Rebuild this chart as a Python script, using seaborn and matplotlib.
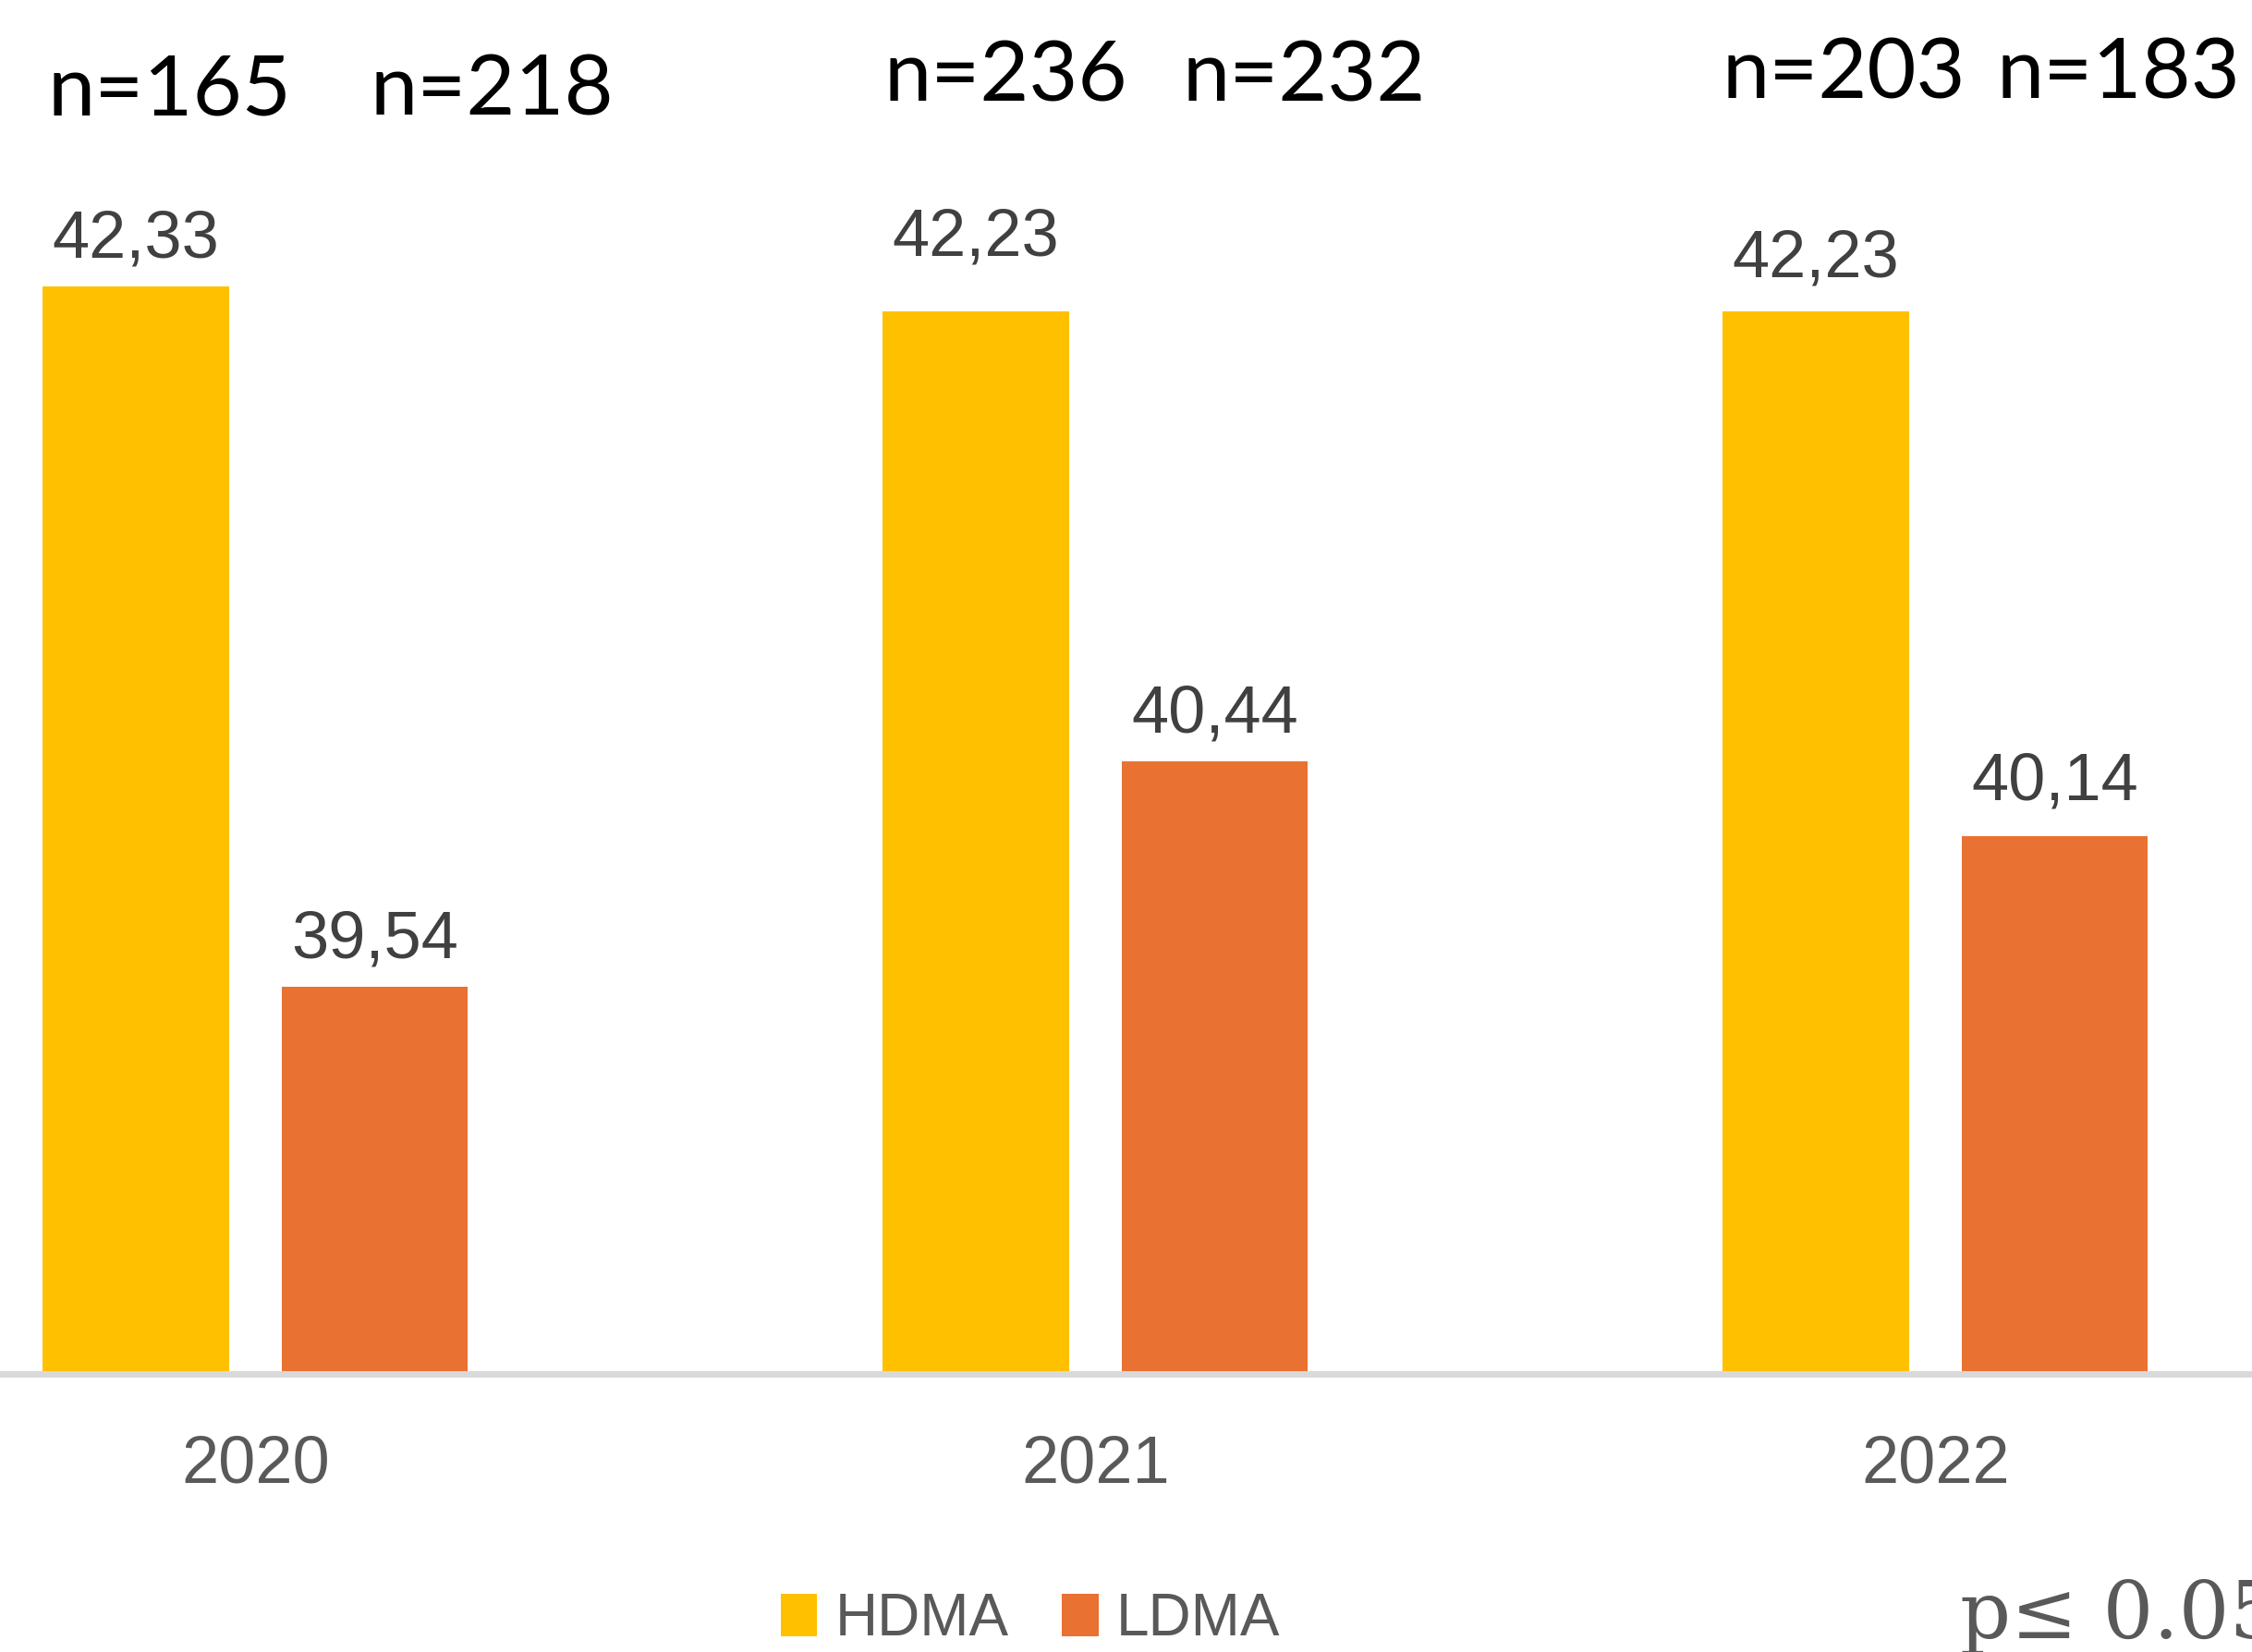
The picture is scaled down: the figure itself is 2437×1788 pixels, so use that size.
import matplotlib
matplotlib.use("Agg")
import matplotlib.pyplot as plt
import matplotlib.transforms as mtransforms
import pandas as pd
import seaborn as sns

# data
YEARS = ["2020", "2021", "2022"]
GROUPS = ["HDMA", "LDMA"]
HDMA_VALUES = [42.33, 42.23, 42.23]
LDMA_VALUES = [39.54, 40.44, 40.14]
HDMA_N = [165, 236, 203]
LDMA_N = [218, 232, 183]

COLORS = {"HDMA": "#FFC000", "LDMA": "#E97132"}
Y_MIN, Y_MAX = 38.0, 43.47

# layout of the hand-placed labels
N_DX = {"HDMA": [0.04, 0.036, 0.033], "LDMA": [0.139, 0.106, 0.076]}
N_Y = [0.9306, 0.939, 0.9402]
LABEL_PAD = {"HDMA": [12, 33, 16.5], "LDMA": [12, 12, 17.5]}

SANS = ["Liberation Sans", "DejaVu Sans"]


def main():
    df = pd.DataFrame({
        "year": YEARS * 2,
        "group": ["HDMA"] * len(YEARS) + ["LDMA"] * len(YEARS),
        "value": HDMA_VALUES + LDMA_VALUES,
    })
    n_map = {"HDMA": HDMA_N, "LDMA": LDMA_N}

    sns.set_theme(style="white")
    plt.rcParams["font.family"] = SANS

    fig = plt.figure(figsize=(24.37, 17.88), dpi=100)
    ax = fig.add_axes([0, 0.1683, 1, 0.8317])

    sns.barplot(
        data=df, x="year", y="value", hue="group", hue_order=GROUPS,
        palette=COLORS, width=0.569, gap=0.22, errorbar=None,
        saturation=1, linewidth=0, ax=ax,
    )

    ax.set_xlim(-0.304, 2.377)
    ax.set_ylim(Y_MIN, Y_MAX)
    ax.set_yticks([])
    ax.set_xlabel("")
    ax.set_ylabel("")
    for side in ["top", "right", "left"]:
        ax.spines[side].set_visible(False)
    ax.spines["bottom"].set_color("#D9D9D9")
    ax.spines["bottom"].set_linewidth(5)
    ax.tick_params(axis="x", length=0, pad=47, labelsize=52, labelcolor="#595959")

    # value labels (decimal comma) and sample sizes
    trans = mtransforms.blended_transform_factory(ax.transData, fig.transFigure)
    for group, container in zip(GROUPS, ax.containers):
        for i, bar in enumerate(container):
            cx = bar.get_x() + bar.get_width() / 2
            top = bar.get_height()
            ax.annotate(
                f"{top:.2f}".replace(".", ","), xy=(cx, top),
                xytext=(0, LABEL_PAD[group][i]), textcoords="offset points",
                ha="center", va="bottom", fontsize=52, color="#404040",
                family=SANS,
            )
            ax.text(cx + N_DX[group][i], N_Y[i], f"n={n_map[group][i]}",
                    transform=trans, ha="center", va="baseline", fontsize=66,
                    family=["Lato", "DejaVu Sans"], color="black")

    # legend at the bottom
    old = ax.get_legend()
    handles = old.legend_handles
    labels = [t.get_text() for t in old.get_texts()]
    old.remove()
    ax.legend(
        handles, labels, loc="center", bbox_to_anchor=(0.4575, 0.0195),
        bbox_transform=fig.transFigure, ncol=2, frameon=False,
        prop={"family": SANS, "size": 46}, labelcolor="#595959",
        handlelength=0.62, handleheight=0.72, handletextpad=0.3,
        columnspacing=0.9,
    )

    fig.text(0.8705, 0.0084, "p\u2264 0.05", family=["DejaVu Serif"],
             fontsize=62, color="#595959", ha="left", va="baseline")

    fig.savefig("out.png", dpi=100)
    plt.close(fig)


if __name__ == "__main__":
    main()
